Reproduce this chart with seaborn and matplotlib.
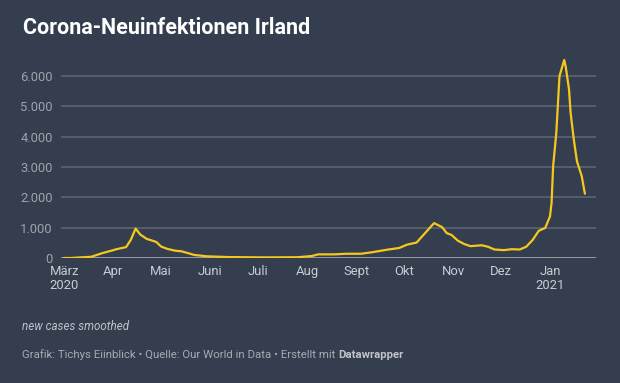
import matplotlib
matplotlib.use("Agg")
import matplotlib.pyplot as plt
from matplotlib.ticker import FuncFormatter
import pandas as pd
import seaborn as sns

# values (7-day smoothed new cases, Ireland)
dates = ["2020-03-01", "2020-03-05", "2020-03-18", "2020-03-25", "2020-03-30",
         "2020-04-03", "2020-04-09", "2020-04-12", "2020-04-15", "2020-04-18",
         "2020-04-22", "2020-04-25", "2020-04-28", "2020-05-01", "2020-05-05",
         "2020-05-10", "2020-05-14", "2020-05-17", "2020-05-22", "2020-05-30",
         "2020-06-13", "2020-07-05", "2020-07-26", "2020-08-04", "2020-08-08",
         "2020-08-18", "2020-08-26", "2020-09-04", "2020-09-11", "2020-09-20",
         "2020-09-28", "2020-10-03", "2020-10-09", "2020-10-15", "2020-10-20",
         "2020-10-25", "2020-10-28", "2020-10-31", "2020-11-04", "2020-11-08",
         "2020-11-12", "2020-11-19", "2020-11-23", "2020-11-27", "2020-12-03",
         "2020-12-08", "2020-12-13", "2020-12-17", "2020-12-21", "2020-12-25",
         "2020-12-29", "2021-01-01", "2021-01-02", "2021-01-03", "2021-01-05",
         "2021-01-07", "2021-01-10", "2021-01-11", "2021-01-13", "2021-01-14",
         "2021-01-16", "2021-01-18", "2021-01-21", "2021-01-23"]
cases = [0, 0, 40, 160, 230,
         290, 360, 600, 970, 770,
         630, 580, 530, 380, 300,
         240, 220, 175, 100, 55,
         30, 20, 25, 65, 120,
         120, 140, 140, 190, 270,
         330, 440, 510, 860, 1150,
         1020, 820, 760, 570, 460,
         390, 420, 370, 280, 260,
         290, 280, 370, 590, 900,
         990, 1370, 1810, 3030, 4130,
         6000, 6530, 6280, 5560, 4790,
         3910, 3190, 2700, 2120]

month_ticks = ["2020-03-01", "2020-04-01", "2020-05-01", "2020-06-01", "2020-07-01",
               "2020-08-01", "2020-09-01", "2020-10-01", "2020-11-01", "2020-12-01",
               "2021-01-01"]
month_labels = ["März\n2020", "Apr", "Mai", "Juni", "Juli", "Aug", "Sept", "Okt",
                "Nov", "Dez", "Jan\n2021"]
y_ticks = [0, 1000, 2000, 3000, 4000, 5000, 6000]

df = pd.DataFrame({"date": pd.to_datetime(dates), "cases": cases})

bg = "#343e4e"
sns.set_theme(style="dark")
plt.rcParams["font.family"] = ["Roboto", "DejaVu Sans"]

fig = plt.figure(figsize=(6.2, 3.83), dpi=100, facecolor=bg)
ax = fig.add_axes([61 / 620, 1 - 258 / 383, 535 / 620, 200.2 / 383])
ax.set_facecolor(bg)

for v in y_ticks[1:]:
    ax.axhline(v, color="#5d6775", lw=1.1, zorder=1)

sns.lineplot(data=df, x="date", y="cases", ax=ax, color="#f6c81e", lw=1.6, zorder=3)
ax.axhline(0, color="#b4b7bc", lw=1.8, zorder=2)

ax.set_xlim(pd.Timestamp("2020-02-28"), pd.Timestamp("2021-01-30"))
ax.set_ylim(0, 6600)
ax.set_yticks(y_ticks)
ax.yaxis.set_major_formatter(FuncFormatter(lambda v, p: f"{int(v):,}".replace(",", ".")))
ax.set_xticks(pd.to_datetime(month_ticks))
ax.set_xticklabels(month_labels)
ax.tick_params(axis="y", colors="#9ea3ab", labelsize=9.4, length=0, pad=6)
ax.tick_params(axis="x", colors="#c9ccd1", labelsize=9.4, length=0, pad=5)
for lab in ax.get_xticklabels():
    lab.set_linespacing(1.15)
ax.set_xlabel("")
ax.set_ylabel("")
ax.grid(False)
for s in ax.spines.values():
    s.set_visible(False)

fig.text(23 / 620, 1 - 28 / 383, "Corona-Neuinfektionen Irland", color="white",
         fontsize=15.5, fontweight="bold", va="center", ha="left")
fig.text(22 / 620, 1 - 327 / 383, "new cases smoothed", color="#c0c3c8",
         fontsize=8.4, style="italic", va="center", ha="left")
foot = fig.text(22 / 620, 1 - 355 / 383,
                "Grafik: Tichys Eiinblick \u2022 Quelle: Our World in Data \u2022 Erstellt mit ",
                color="#a6abb2", fontsize=8.2, va="center", ha="left")
fig.canvas.draw()
bb = foot.get_window_extent(renderer=fig.canvas.get_renderer())
fig.text(bb.x1 / 620, 1 - 355 / 383, "Datawrapper", color="#c0c3c8",
         fontsize=8.2, fontweight="bold", va="center", ha="left")

fig.savefig("out.png", dpi=100, facecolor=bg)
